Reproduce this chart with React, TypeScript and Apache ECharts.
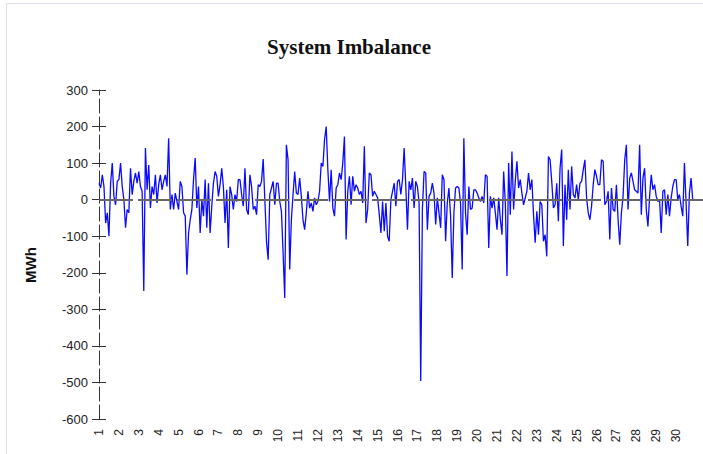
import React, { useEffect, useRef } from "react";
import * as echarts from "echarts";

// Readings: 12 values per day (every 2 hours), days 1..30
const week1: number[][] = [
  [45, 32, 68, 36, -64, -36, -100, 45, 100, 9, -14, 50],
  [55, 100, 36, 0, -77, -27, -36, 86, 14, 50, 73, 45],
  [77, 36, 23, -250, 141, 27, 95, -23, 36, 14, 68, -9],
  [41, 68, 27, 50, 68, 36, 168, -27, 14, -27, 18, -5],
  [-27, 50, 36, -36, -45, -205, -91, -55, -27, 55, 114, -23],
  [36, -91, 0, -45, 55, -77, 45, -91, -18, 45, 77, 64],
  [9, 41, 86, 36, -64, 27, -132, 36, 14, -27, 14, -5],
];
const week2: number[][] = [
  [55, 55, 14, -18, 86, -27, -41, 68, 36, -27, -18, -41],
  [41, 36, 50, 111, 0, -114, -164, 14, 32, 50, -14, 45],
  [45, -5, -32, -146, -269, 150, 109, -191, -55, 14, 77, 18],
  [14, 59, 9, -55, -82, -36, 23, -23, -9, -32, 5, -14],
  [-5, 23, 100, 91, 164, 200, 82, -5, 82, -23, -45, 32],
  [41, 73, 55, 100, 173, -109, 23, 64, -14, 64, 23, 41],
  [32, 14, 23, -9, 146, -64, -27, 73, 68, 9, 23, 14],
];
const week3: number[][] = [
  [5, -41, -91, -5, -86, -9, -100, -114, 0, 23, 45, -18],
  [50, 55, 14, 55, 141, 36, -82, 50, 27, 59, -23, 50],
  [36, -9, -496, -27, 77, 73, -82, 9, 18, 45, 18, -68],
  [5, -36, -77, 68, 55, -114, -9, 32, -45, -214, -36, 32],
  [36, 32, -9, -191, 168, -36, -96, 36, -27, -23, 27, 27],
  [18, 5, -5, 9, -9, 68, 64, -132, 9, -23, 5, -36],
  [-82, 5, -55, -96, 77, -9, -209, 100, -41, 132, -27, 50],
];
const week4: number[][] = [
  [105, 32, 55, 18, -14, 5, 23, 73, 27, 55, -41, -118],
  [-32, -96, -5, -14, -114, -96, -155, 118, 109, 50, -23, -14],
  [45, -59, 86, 137, -127, 41, -55, 82, -27, 91, 14, 5],
  [41, 0, 45, 50, 82, 109, 5, -36, -55, -18, 41, 82],
  [64, 41, 41, 109, 105, -14, -5, 23, -109, 32, -27, -32],
  [41, -55, -123, -36, 9, 109, 150, -27, 59, 73, 50, 27],
  [23, 18, 150, -41, 59, 86, -27, -73, 9, 68, 27, 41],
];
const week5: number[][] = [
  [9, -5, 0, -91, 23, 27, -41, 14, -45, 5, 36, 55],
  [55, 0, 14, -18, -45, 100, -9, -127, 18, 59, 0],
];

const pointsPerDay = 12;
const firstDay = 1;
const lastLabelDay = 30;
const yTicks = { min: -600, max: 300, step: 100 };

const allDays = [...week1, ...week2, ...week3, ...week4, ...week5];
const seriesData: [number, number][] = [];
allDays.forEach((vals, d) => {
  vals.forEach((v, i) => {
    seriesData.push([firstDay + d + i / pointsPerDay, v]);
  });
});

export default function App() {
  const ref = useRef<HTMLDivElement>(null);
  useEffect(() => {
    if (!ref.current) return;
    const chart = echarts.init(ref.current, undefined, { renderer: "svg" });
    const font = "'Liberation Sans', Arial, sans-serif";
    chart.setOption({
      animation: false,
      grid: { left: 99, top: 90, bottom: 35, right: 0, containLabel: false },
      graphic: [
        {
          type: "text",
          x: 349,
          y: 47,
          style: {
            text: "System Imbalance",
            fontFamily: "'Liberation Serif', 'Times New Roman', serif",
            fontWeight: "bold",
            fontSize: 21,
            fill: "#111",
            align: "center",
            verticalAlign: "middle",
          },
        },
        {
          type: "text",
          x: 30,
          y: 265,
          rotation: Math.PI / 2,
          style: {
            text: "MWh",
            fontFamily: font,
            fontWeight: "bold",
            fontSize: 15,
            fill: "#111",
            align: "center",
            verticalAlign: "middle",
          },
        },
      ],
      xAxis: {
        type: "value",
        min: 1,
        max: 31.35,
        interval: 1,
        axisLine: { show: false, onZero: false },
        axisTick: { show: false },
        splitLine: { show: false },
        axisLabel: {
          rotate: 90,
          margin: 10,
          fontSize: 12,
          fontFamily: font,
          color: "#222",
          showMaxLabel: false,
          formatter: (v: number) =>
            Number.isInteger(v) && v <= lastLabelDay ? String(v) : "",
        },
      },
      yAxis: [
        {
          type: "value",
          min: yTicks.min,
          max: yTicks.max,
          interval: yTicks.step,
          position: "left",
          axisLine: {
            show: true,
            onZero: false,
            lineStyle: { color: "#333", width: 1, type: [14, 4] },
          },
          axisTick: { show: true, length: 7, lineStyle: { color: "#333" } },
          axisLabel: { margin: 11, fontSize: 13, fontFamily: font, color: "#222" },
          splitLine: { show: false },
        },
        {
          type: "value",
          min: yTicks.min,
          max: yTicks.max,
          interval: yTicks.step,
          position: "left",
          axisLine: { show: false, onZero: false },
          axisTick: { show: true, inside: true, length: 7, lineStyle: { color: "#333" } },
          axisLabel: { show: false },
          splitLine: { show: false },
        },
      ],
      series: [
        {
          type: "line",
          data: [[1, 0]],
          symbol: "none",
          lineStyle: { width: 0 },
          z: 1,
          silent: true,
          markLine: {
            silent: true,
            symbol: ["none", "none"],
            label: { show: false },
            lineStyle: { color: "#666", width: 2, type: [34, 5] },
            data: [{ yAxis: 0 }],
          },
        },
        {
          type: "line",
          data: seriesData,
          symbol: "none",
          showSymbol: false,
          z: 3,
          lineStyle: { color: "#0a0aff", width: 1.3 },
        },
      ],
    });
    return () => chart.dispose();
  }, []);
  return (
    <div style={{ position: "fixed", left: 0, top: 0, width: 703, height: 454, background: "#fff" }}>
      <div
        style={{
          position: "absolute",
          left: 6,
          top: 3,
          width: 800,
          height: 600,
          borderLeft: "1px solid #dbe1e8",
          borderTop: "1px solid #dbe1e8",
        }}
      />
      <div ref={ref} style={{ position: "absolute", left: 0, top: 0, width: 703, height: 454 }} />
    </div>
  );
}
